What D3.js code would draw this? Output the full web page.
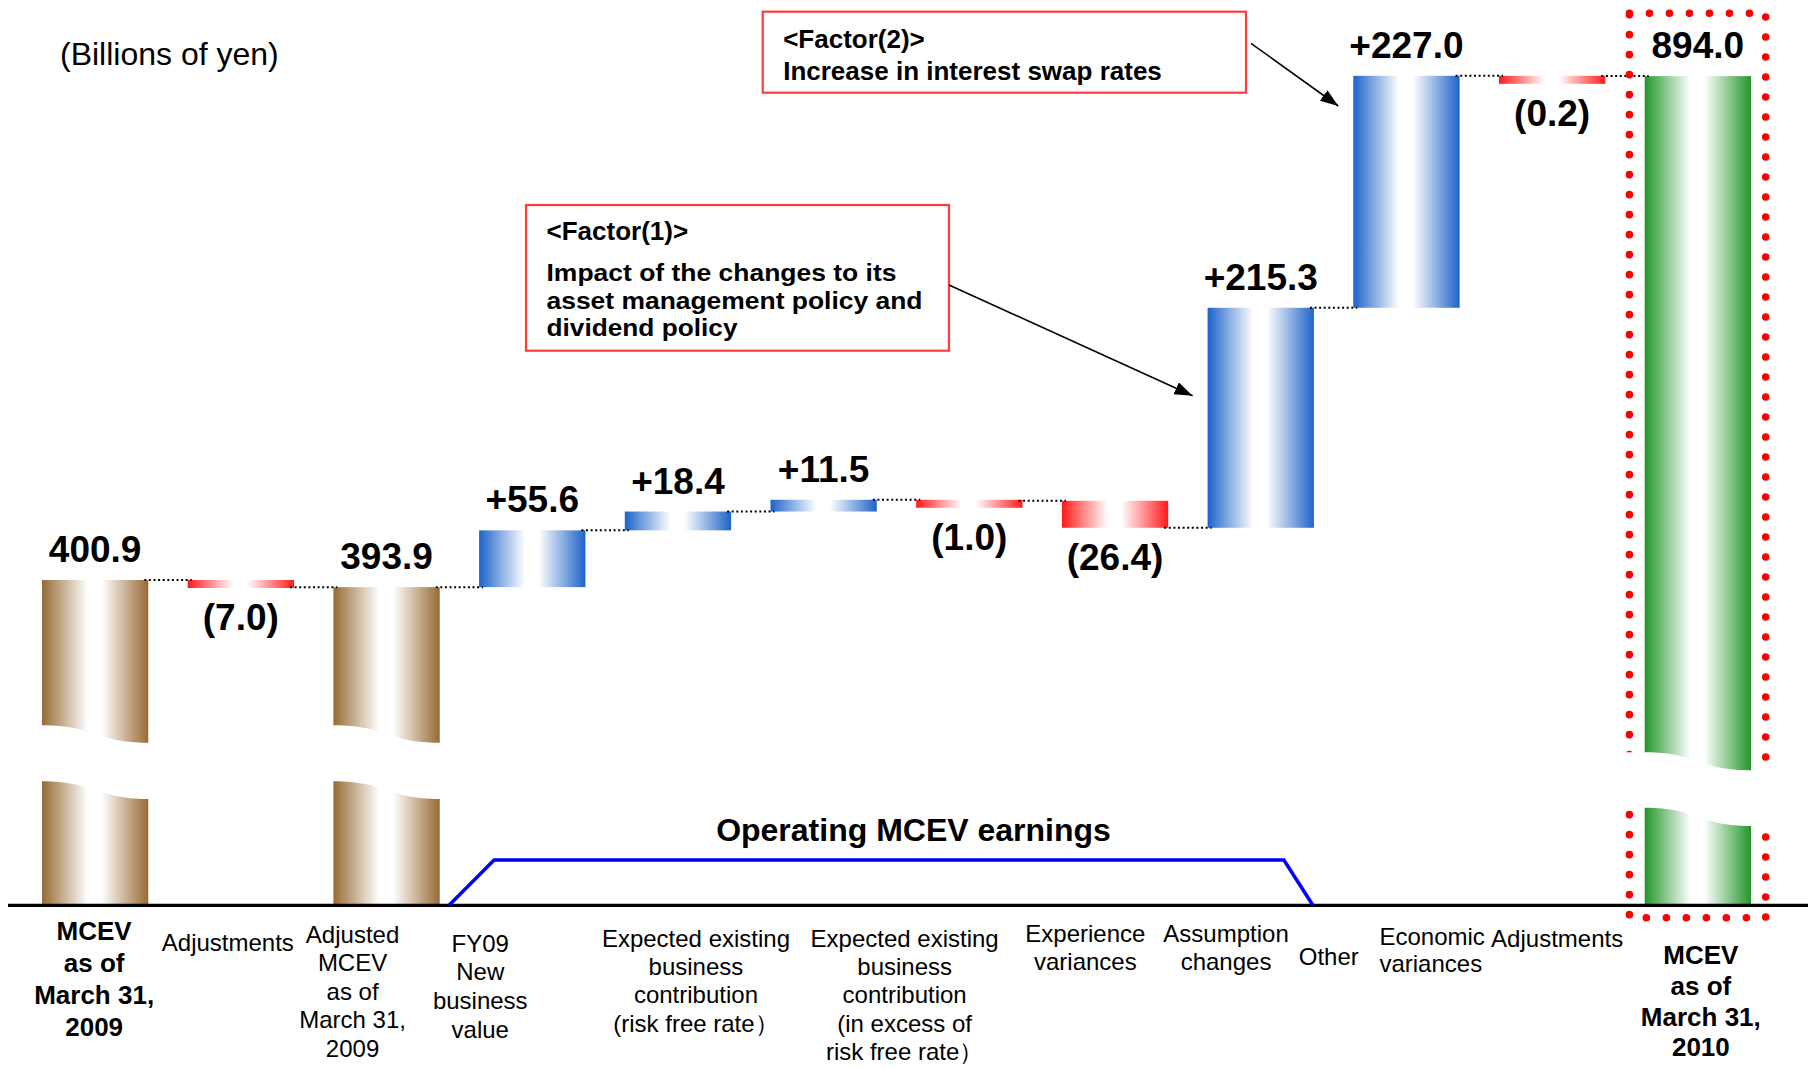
<!DOCTYPE html>
<html>
<head>
<meta charset="utf-8">
<script src="https://cdn.jsdelivr.net/npm/d3@7"></script>
<style>
  html, body { margin: 0; padding: 0; background: #ffffff; }
  svg { display: block; }
  text { font-family: "Liberation Sans", Arial, Helvetica, sans-serif; fill: #000; }
</style>
</head>
<body>
<svg id="chart" width="1808" height="1067"></svg>
<script>
// ---- Data: MCEV movement analysis, billions of yen ----
const categories = [
  ["MCEV", "as of", "March 31,", "2009"],
  ["Adjustments"],
  ["Adjusted", "MCEV", "as of", "March 31,", "2009"],
  ["FY09", "New", "business", "value"],
  ["Expected existing", "business", "contribution", "(risk free rate）"],
  ["Expected existing", "business", "contribution", "(in excess of", "risk free rate）"],
  ["Experience", "variances"],
  ["Assumption", "changes"],
  ["Other"],
  ["Economic", "variances"],
  ["Adjustments"],
  ["MCEV", "as of", "March 31,", "2010"]
];
const stepValues = [400.9, -7.0, 393.9, 55.6, 18.4, 11.5, -1.0, -26.4, 215.3, 227.0, -0.2, 894.0];
const stepKinds  = ["total", "delta", "total", "delta", "delta", "delta", "delta", "delta", "delta", "delta", "delta", "final"];
const unitText = "(Billions of yen)";
const operatingTitle = "Operating MCEV earnings";
const operatingSpan = [3, 8];          // first and last step covered by the bracket
const factor1Title = "<Factor(1)>";
const factor1Lines = ["Impact of the changes to its", "asset management policy and", "dividend policy"];
const factor1Step = 8;
const factor2Title = "<Factor(2)>";
const factor2Lines = ["Increase in interest swap rates"];
const factor2Step = 9;

// ---- Layout & style ----
const W = 1808, H = 1067;
const baseY = 905.3;
const edge = { total: "#976a34", final: "#23962b", up: "#1d63c9", down: "#ff1a1a" };
const minBar = 8;

// category label placement: x shift from band centre, first baseline, line height
const labelStyle = [
  { dx: -1,   y0: 940,   lh: 32,   bold: true },
  { dx: -13,  y0: 950.7, lh: 28.5 },
  { dx: -34,  y0: 943,   lh: 28.4 },
  { dx: -52,  y0: 951.7, lh: 28.7 },
  { dx: 18,   y0: 946.7, lh: 28.3 },
  { dx: 81,   y0: 946.7, lh: 28.3 },
  { dx: 116,  y0: 941.7, lh: 28.3 },
  { dx: 111,  y0: 941.7, lh: 28.3 },
  { dx: 68,   y0: 965,   lh: 28.3 },
  { dx: -27,  y0: 945,   lh: 26.7, anchor: "start" },
  { dx: 5,    y0: 946.7, lh: 28.3 },
  { dx: 3,    y0: 964,   lh: 30.8, bold: true }
];

const svg = d3.select("#chart");

// ---- Scales ----
const x = d3.scaleBand()
  .domain(d3.range(categories.length))
  .range([42, 1751])
  .paddingInner(0.2704)
  .paddingOuter(0);
const bw = x.bandwidth();

// value axis with a compressed lower segment (the axis is broken inside the total bars)
const y = d3.scaleLinear()
  .domain([0, 300, 900])
  .range([baseY, 683.1, 70]);

// ---- Waterfall steps ----
let level = 0;
const steps = stepValues.map((v, i) => {
  const kind = stepKinds[i];
  const from = kind === "delta" ? level : 0;
  const to = kind === "delta" ? level + v : v;
  level = to;
  let top, bottom;
  if (kind === "delta") {
    const ya = y(from), yb = y(to);
    if (v >= 0) { bottom = ya; top = Math.min(yb, ya - minBar); }
    else { top = ya; bottom = Math.max(yb, ya + minBar); }
  } else {
    top = y(to); bottom = y(0);
  }
  const color = kind === "delta" ? (v >= 0 ? "up" : "down") : kind;
  return { i, v, kind, from, to, top, bottom, color };
});

// ---- Gradients ----
const defs = svg.append("defs");
Object.entries(edge).forEach(([key, c]) => {
  const g = defs.append("linearGradient")
    .attr("id", "grad-" + key)
    .attr("x1", "0%").attr("x2", "100%").attr("y1", "0%").attr("y2", "0%");
  [[0, c], [0.43, "#ffffff"], [0.56, "#ffffff"], [1, c]].forEach(([o, col]) => {
    g.append("stop").attr("offset", o).attr("stop-color", col);
  });
});
defs.append("marker")
  .attr("id", "arrowHead")
  .attr("markerUnits", "userSpaceOnUse")
  .attr("markerWidth", 20).attr("markerHeight", 14)
  .attr("refX", 18).attr("refY", 6.5)
  .attr("orient", "auto")
  .append("path").attr("d", "M0,0 L18,6.5 L0,13 Z").attr("fill", "#000");

// ---- Bars ----
svg.append("g").selectAll("rect")
  .data(steps)
  .join("rect")
  .attr("x", d => x(d.i))
  .attr("y", d => d.top)
  .attr("width", bw)
  .attr("height", d => d.bottom - d.top)
  .attr("fill", d => "url(#grad-" + d.color + ")");

// ---- Dotted connectors ----
svg.append("g").selectAll("line")
  .data(steps.slice(0, -1))
  .join("line")
  .attr("x1", d => x(d.i) + bw - 4)
  .attr("x2", d => x(d.i + 1) + 4)
  .attr("y1", d => y(d.to))
  .attr("y2", d => y(d.to))
  .attr("stroke", "#000")
  .attr("stroke-width", 2)
  .attr("stroke-dasharray", "2,2.6");

// ---- Dotted frame around the closing MCEV ----
const last = steps[steps.length - 1];
svg.append("rect")
  .attr("x", x(last.i) - 15.3)
  .attr("y", 13.3)
  .attr("width", bw + 30)
  .attr("height", 917.7 - 13.3)
  .attr("fill", "none")
  .attr("stroke", "#ff0000")
  .attr("stroke-width", 7.5)
  .attr("stroke-linecap", "round")
  .attr("stroke-dasharray", "0.1,19.9");

// ---- Axis-break bands across the total bars ----
function breakPath(x0, x1, uL, uR, lL, lR, ext) {
  const xm = (x0 + x1) / 2;
  return `M${x0 - ext},${uL} L${x0},${uL} C${xm},${uL} ${xm},${uR} ${x1},${uR} L${x1 + ext},${uR}` +
         ` L${x1 + ext},${lR} L${x1},${lR} C${xm},${lR} ${xm},${lL} ${x0},${lL} L${x0 - ext},${lL} Z`;
}
const breaks = steps.filter(d => d.kind !== "delta").map(d => d.kind === "final"
  ? { d, uL: baseY - 153, uR: baseY - 135, lL: baseY - 97.6, lR: baseY - 79.3, ext: 22 }
  : { d, uL: baseY - 180, uR: baseY - 162.5, lL: baseY - 124, lR: baseY - 106.3, ext: 1 });
svg.append("g").selectAll("path")
  .data(breaks)
  .join("path")
  .attr("d", b => breakPath(x(b.d.i), x(b.d.i) + bw, b.uL, b.uR, b.lL, b.lR, b.ext))
  .attr("fill", "#ffffff");

// ---- Baseline ----
svg.append("line")
  .attr("x1", 8).attr("x2", W)
  .attr("y1", baseY).attr("y2", baseY)
  .attr("stroke", "#000").attr("stroke-width", 3.2);

// ---- Operating MCEV earnings bracket ----
const bx0 = x(operatingSpan[0]), bx1 = x(operatingSpan[1]) + bw, bTop = 860;
svg.append("path")
  .attr("d", `M${bx0 - 30},${baseY} L${bx0 + 15},${bTop} L${bx1 - 30},${bTop} L${bx1 - 1},${baseY}`)
  .attr("fill", "none")
  .attr("stroke", "#0000ff")
  .attr("stroke-width", 3.5)
  .attr("stroke-linejoin", "miter");
svg.append("text")
  .attr("x", (bx0 + bx1) / 2 + 17)
  .attr("y", 841)
  .attr("text-anchor", "middle")
  .attr("font-size", 32)
  .attr("font-weight", "bold")
  .text(operatingTitle);

// ---- Value labels ----
const fmt = d3.format(".1f");
const valueText = d => d.kind === "delta"
  ? (d.v >= 0 ? "+" + fmt(d.v) : "(" + fmt(-d.v) + ")")
  : fmt(d.v);
svg.append("g").selectAll("text")
  .data(steps)
  .join("text")
  .attr("x", d => x(d.i) + bw / 2)
  .attr("y", d => (d.kind === "delta" && d.v < 0) ? d.bottom + 42 : d.top - 18)
  .attr("text-anchor", "middle")
  .attr("font-size", 37)
  .attr("font-weight", "bold")
  .text(valueText);

// ---- Category labels ----
const catG = svg.append("g");
categories.forEach((lines, i) => {
  const s = labelStyle[i];
  const cx = x(i) + bw / 2 + s.dx;
  const t = catG.append("text")
    .attr("text-anchor", s.anchor || "middle")
    .attr("font-size", s.bold ? 26 : 24)
    .attr("font-weight", s.bold ? "bold" : "normal");
  lines.forEach((ln, k) => {
    t.append("tspan").attr("x", cx).attr("y", s.y0 + k * s.lh).text(ln);
  });
});

// ---- Unit note ----
svg.append("text")
  .attr("x", 60).attr("y", 65)
  .attr("font-size", 32)
  .text(unitText);

// ---- Factor call-outs ----
function callout(box, title, lines, titleY, lineYs, bodySize, bodyWidths) {
  svg.append("rect")
    .attr("x", box.x).attr("y", box.y).attr("width", box.w).attr("height", box.h)
    .attr("fill", "#ffffff").attr("stroke", "#ff3b3b").attr("stroke-width", 2.2);
  svg.append("text")
    .attr("x", box.x + 20.5).attr("y", titleY)
    .attr("font-size", 26).attr("font-weight", "bold")
    .text(title);
  lines.forEach((ln, k) => {
    const t = svg.append("text")
      .attr("x", box.x + 20.5).attr("y", lineYs[k])
      .attr("font-size", bodySize).attr("font-weight", "bold")
      .text(ln);
    if (bodyWidths) t.attr("textLength", bodyWidths[k]).attr("lengthAdjust", "spacingAndGlyphs");
  });
}
const box1 = { x: 526, y: 205, w: 423, h: 145.7 };
const box2 = { x: 762.7, y: 11.7, w: 483.3, h: 81 };
callout(box1, factor1Title, factor1Lines, 240, [281, 308.5, 336], 23.5, [350, 376, 191]);
callout(box2, factor2Title, factor2Lines, 48.3, [80], 26, null);

function arrowTo(step, fx, fy, frac) {
  const s = steps[step];
  const tx = x(s.i) - 15;
  const ty = s.top + frac * (s.bottom - s.top);
  svg.append("line")
    .attr("x1", fx).attr("y1", fy).attr("x2", tx).attr("y2", ty)
    .attr("stroke", "#000").attr("stroke-width", 1.6)
    .attr("marker-end", "url(#arrowHead)");
}
arrowTo(factor1Step, box1.x + box1.w, 285, 0.40);
arrowTo(factor2Step, box2.x + box2.w + 5, 43.3, 0.13);
</script>
</body>
</html>
